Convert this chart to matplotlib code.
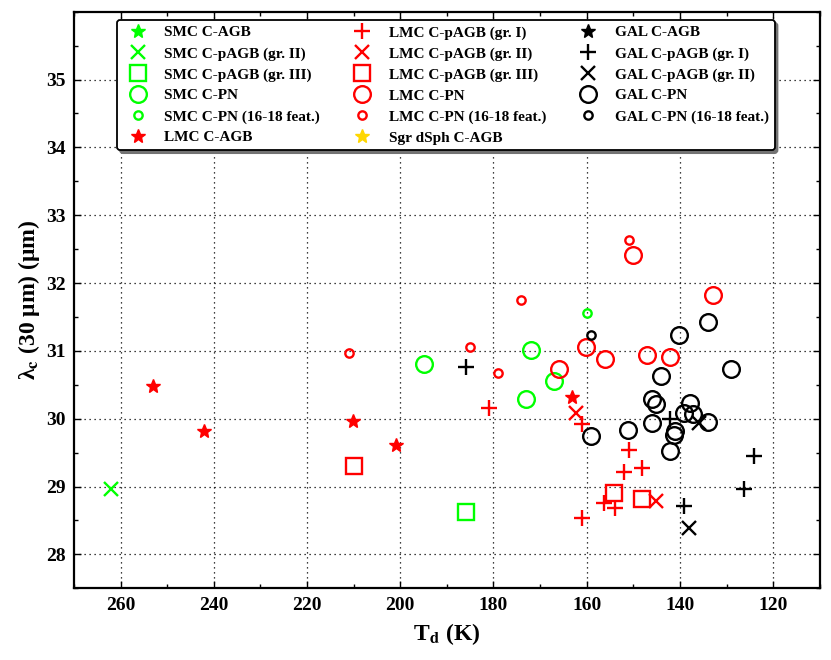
import numpy as np
import matplotlib
matplotlib.use("Agg")
import matplotlib.pyplot as plt
from matplotlib.ticker import MultipleLocator

plt.rcParams['font.family'] = ['Liberation Serif', 'DejaVu Serif']
plt.rcParams['font.weight'] = 'bold'
plt.rcParams['mathtext.fontset'] = 'stix'

# Données : T_d (K) et lambda_c (µm)
smc_agb_T, smc_agb_L = [], []
smc_pagb2_T, smc_pagb2_L = [262.0], [28.97]
smc_pagb3_T, smc_pagb3_L = [186.0], [28.62]
smc_pn_T = [195.0, 172.0, 167.1, 173.1]
smc_pn_L = [30.81, 31.01, 30.55, 30.29]
smc_pnf_T, smc_pnf_L = [160.0], [31.56]

lmc_agb_T = [253.0, 242.0, 210.1, 201.0, 163.2]
lmc_agb_L = [30.48, 29.82, 29.96, 29.62, 30.32]
lmc_pagb1_T = [181.0, 161.1, 151.0, 148.1, 151.9, 156.2, 154.0, 161.1]
lmc_pagb1_L = [30.16, 29.92, 29.54, 29.28, 29.21, 28.76, 28.69, 28.54]
lmc_pagb2_T, lmc_pagb2_L = [162.4, 145.1], [30.08, 28.79]
lmc_pagb3_T, lmc_pagb3_L = [209.9, 154.1, 148.1], [29.30, 28.90, 28.81]
lmc_pn_T = [150.1, 133.0, 160.1, 156.0, 147.1, 142.1, 166.0]
lmc_pn_L = [32.41, 31.82, 31.06, 30.88, 30.94, 30.91, 30.73]
lmc_pnf_T = [151.0, 174.0, 185.0, 179.0, 211.0]
lmc_pnf_L = [32.64, 31.75, 31.05, 30.67, 30.97]

sgr_agb_T, sgr_agb_L = [], []

gal_agb_T, gal_agb_L = [], []
gal_pagb1_T = [186.0, 142.2, 124.2, 126.2, 139.2]
gal_pagb1_L = [30.76, 30.00, 29.45, 28.97, 28.71]
gal_pagb2_T, gal_pagb2_L = [136.0, 138.1], [29.93, 28.39]
gal_pn_T = [140.1, 134.0, 129.1, 144.1, 146.1, 145.1, 137.9, 139.2,
            137.1, 134.0, 146.0, 151.1, 159.1, 141.1, 141.2, 142.1]
gal_pn_L = [31.23, 31.42, 30.73, 30.63, 30.29, 30.21, 30.23, 30.09,
            30.07, 29.95, 29.93, 29.84, 29.74, 29.82, 29.76, 29.53]
gal_pnf_T, gal_pnf_L = [159.1], [31.24]

VERT = '#00ff00'
ROUGE = '#ff0000'
JAUNE = '#ffd700'
NOIR = '#000000'

fig = plt.figure(figsize=(8.31, 6.6), dpi=100)
ax = fig.add_axes([0.089, 0.1086, 0.8975, 0.8737])

def trace(T, L, m, c, label, ms, filled=False):
    if filled:
        return ax.plot(T, L, ls='none', marker=m, color=c, ms=ms, mec=c, mfc=c,
                       label=label, zorder=3)[0]
    return ax.plot(T, L, ls='none', marker=m, color=c, ms=ms, mfc='none', mec=c,
                   mew=1.7, label=label, zorder=3)[0]

h = []
# colonne 1
h.append(trace(smc_agb_T, smc_agb_L, '*', VERT, 'SMC C-AGB', 10.5, True))
h.append(trace(smc_pagb2_T, smc_pagb2_L, 'x', VERT, 'SMC C-pAGB (gr. II)', 10))
h.append(trace(smc_pagb3_T, smc_pagb3_L, 's', VERT, 'SMC C-pAGB (gr. III)', 11))
h.append(trace(smc_pn_T, smc_pn_L, 'o', VERT, 'SMC C-PN', 12))
h.append(trace(smc_pnf_T, smc_pnf_L, 'o', VERT, 'SMC C-PN (16-18 feat.)', 6))
h.append(trace(lmc_agb_T, lmc_agb_L, '*', ROUGE, 'LMC C-AGB', 10.5, True))
# colonne 2
h.append(trace(lmc_pagb1_T, lmc_pagb1_L, '+', ROUGE, 'LMC C-pAGB (gr. I)', 11))
h.append(trace(lmc_pagb2_T, lmc_pagb2_L, 'x', ROUGE, 'LMC C-pAGB (gr. II)', 10))
h.append(trace(lmc_pagb3_T, lmc_pagb3_L, 's', ROUGE, 'LMC C-pAGB (gr. III)', 11))
h.append(trace(lmc_pn_T, lmc_pn_L, 'o', ROUGE, 'LMC C-PN', 12))
h.append(trace(lmc_pnf_T, lmc_pnf_L, 'o', ROUGE, 'LMC C-PN (16-18 feat.)', 6))
h.append(trace(sgr_agb_T, sgr_agb_L, '*', JAUNE, 'Sgr dSph C-AGB', 10.5, True))
# colonne 3
h.append(trace(gal_agb_T, gal_agb_L, '*', NOIR, 'GAL C-AGB', 10.5, True))
h.append(trace(gal_pagb1_T, gal_pagb1_L, '+', NOIR, 'GAL C-pAGB (gr. I)', 11))
h.append(trace(gal_pagb2_T, gal_pagb2_L, 'x', NOIR, 'GAL C-pAGB (gr. II)', 10))
h.append(trace(gal_pn_T, gal_pn_L, 'o', NOIR, 'GAL C-PN', 12))
h.append(trace(gal_pnf_T, gal_pnf_L, 'o', NOIR, 'GAL C-PN (16-18 feat.)', 6))

ax.set_xlim(270, 110)
ax.set_ylim(27.5, 36)
ax.xaxis.set_major_locator(MultipleLocator(20))
ax.xaxis.set_minor_locator(MultipleLocator(10))
ax.yaxis.set_major_locator(MultipleLocator(1))
ax.yaxis.set_minor_locator(MultipleLocator(0.5))
ax.set_yticks(np.arange(28, 36, 1))
ax.tick_params(which='both', direction='in', top=True, right=True, width=1)
ax.tick_params(which='major', length=5, labelsize=14, pad=6)
ax.tick_params(which='minor', length=3)
for s in ax.spines.values():
    s.set_linewidth(1.6)
ax.grid(True, which='major', color='black', linestyle=(0, (1, 3)), lw=0.9)

ax.set_xlabel(r'T$_\mathbf{d}$ (K)', fontsize=17, fontweight='bold', labelpad=5)
ax.set_ylabel(r'λ$_\mathbf{c}$ (30 μm) (μm)', fontsize=17, fontweight='bold', labelpad=3)

leg = ax.legend(handles=h, ncol=3, loc='upper left', bbox_to_anchor=(0.058, 0.9856),
                borderaxespad=0, frameon=True, fancybox=True,
                shadow={'color': '0.45', 'alpha': 1}, edgecolor='black',
                framealpha=1, handlelength=1.9, handletextpad=0.8,
                columnspacing=1.8, labelspacing=0.47, borderpad=0.38,
                numpoints=1, prop={'weight': 'bold', 'size': 11})
leg.get_frame().set_linewidth(1.3)

fig.savefig('out.png', dpi=100)
